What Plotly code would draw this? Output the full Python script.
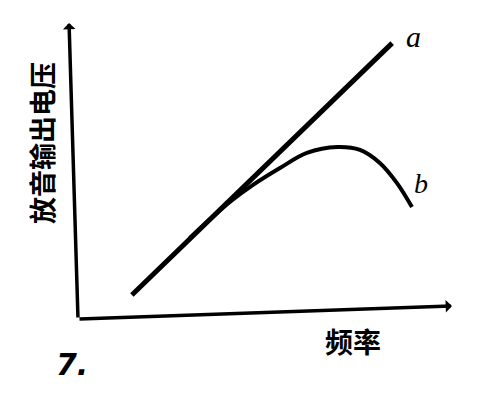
import plotly.graph_objects as go

# Playback output voltage vs frequency (arbitrary units)
line_a_freq = [1.44, 8.40]
line_a_volt = [0.81, 9.32]

curve_b_freq = [2.99, 4.06, 4.68, 5.40, 6.12, 6.93, 7.54, 8.07, 8.53, 8.93]
curve_b_volt = [2.74, 3.95, 4.53, 5.10, 5.61, 5.81, 5.71, 5.27, 4.59, 3.78]

X_RANGE = [-2.086, 10.749]
Y_RANGE = [-2.872, 10.777]
INK = "#000000"

fig = go.Figure()

fig.add_trace(go.Scatter(
    x=line_a_freq, y=line_a_volt, mode="lines",
    line={"color": INK, "width": 5}, hoverinfo="skip"
))
fig.add_trace(go.Scatter(
    x=curve_b_freq, y=curve_b_volt, mode="lines",
    line={"color": INK, "width": 4, "shape": "spline", "smoothing": 1.0},
    hoverinfo="skip"
))

# hand-drawn axes, slightly skewed like the scan
fig.add_annotation(x=10.0, y=0.44, ax=0, ay=0, xref="x", yref="y", axref="x", ayref="y",
                   showarrow=True, arrowhead=1, arrowsize=0.6, arrowwidth=3.5, arrowcolor=INK, text="")
fig.add_annotation(x=-0.24, y=10.0, ax=0, ay=0, xref="x", yref="y", axref="x", ayref="y",
                   showarrow=True, arrowhead=1, arrowsize=0.6, arrowwidth=3.5, arrowcolor=INK, text="")

serif = "Liberation Serif, DejaVu Serif, serif"
cjk = "Noto Sans CJK SC, sans-serif"
labels = [
    # text, x, y, ref, size, family, angle
    ("<i>a</i>", 8.96, 9.53, "x", 30, serif, 0),
    ("<i>b</i>", 9.17, 4.59, "x", 28, serif, 0),
    ("<b>频率</b>", 353 / 480, 1 - 341 / 404, "paper", 28, cjk, 0),
    ("<b>放音输出电压</b>", 41 / 480, 1 - 143 / 404, "paper", 27, cjk, -90),
    ("<b><i>7.</i></b>", 72 / 480, 1 - 364 / 404, "paper", 30, "DejaVu Sans, sans-serif", 0),
]
for text, x, y, ref, size, family, angle in labels:
    fig.add_annotation(
        x=x, y=y, xref=ref, yref="paper" if ref == "paper" else "y",
        xanchor="center", yanchor="middle", text=text, textangle=angle,
        showarrow=False, font={"family": family, "size": size, "color": INK}
    )

fig.update_layout(
    width=480, height=404,
    margin={"t": 0, "b": 0, "l": 0, "r": 0},
    paper_bgcolor="white", plot_bgcolor="white",
    showlegend=False,
    xaxis={"range": X_RANGE, "visible": False, "fixedrange": True},
    yaxis={"range": Y_RANGE, "visible": False, "fixedrange": True},
)

fig.write_html(
    "out.html",
    config={"displayModeBar": False},
    post_script="document.body.style.margin = '0';",
)
